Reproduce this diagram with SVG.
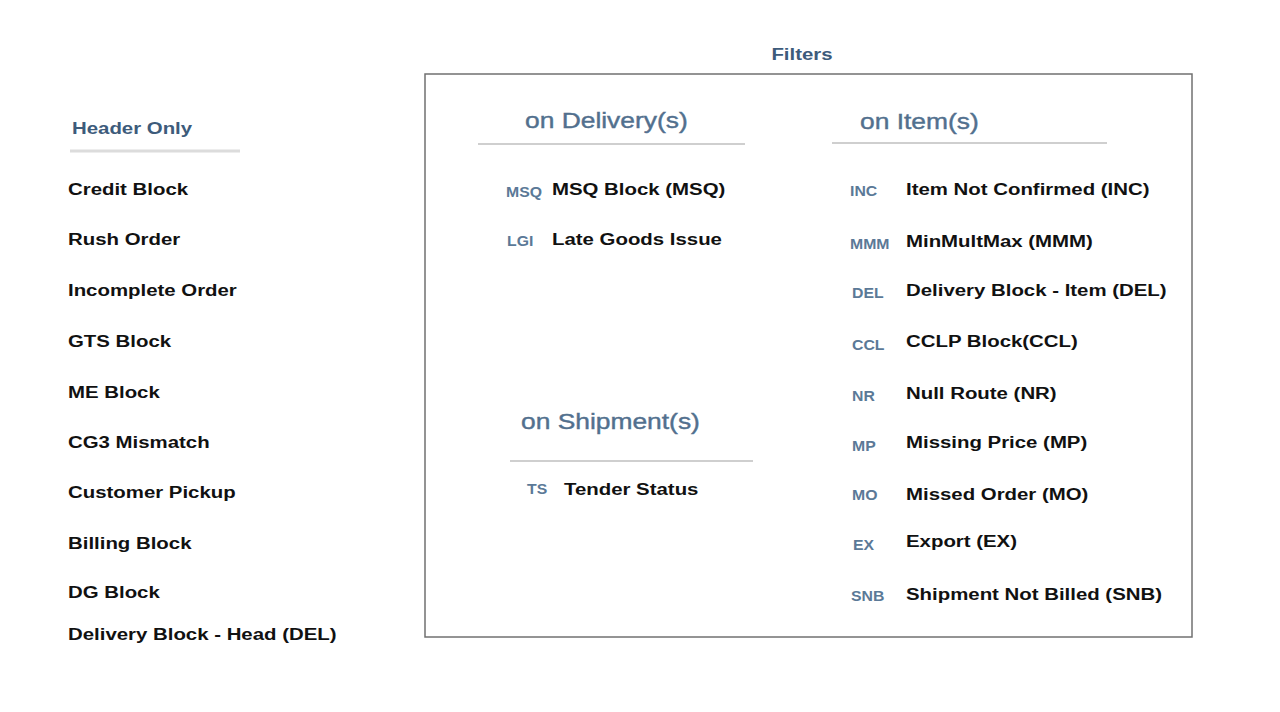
<svg xmlns="http://www.w3.org/2000/svg" width="1280" height="712" viewBox="0 0 1280 712">
<style>
text{font-family:"Liberation Sans",Arial,Helvetica,sans-serif}
.item{font-size:17px;font-weight:bold;fill:#111}
.title{font-size:17px;font-weight:bold;fill:#3d5b7b}
.sec{font-size:22px;fill:#52708e;stroke:#52708e;stroke-width:0.4}
.code{font-size:14px;font-weight:bold;fill:#5b7997}
.rule{stroke:#cfcfcf;stroke-width:2}
</style>
<rect width="1280" height="712" fill="#fff"/>
<g id="filters">
<text class="title" text-anchor="middle" transform="translate(802,60) scale(1.2,1)">Filters</text>
<rect x="425" y="74" width="767" height="563" fill="none" stroke="#707070" stroke-width="1.5"/>
</g>
<g id="header-only">
<text class="title" transform="translate(72,134) scale(1.2,1)">Header Only</text>
<line x1="70" y1="151" x2="240" y2="151" stroke="#dcdcdc" stroke-width="3"/>
<text class="item" transform="translate(68,195) scale(1.2,1)">Credit Block</text>
<text class="item" transform="translate(68,245) scale(1.2,1)">Rush Order</text>
<text class="item" transform="translate(68,296) scale(1.2,1)">Incomplete Order</text>
<text class="item" transform="translate(68,347) scale(1.2,1)">GTS Block</text>
<text class="item" transform="translate(68,398) scale(1.2,1)">ME Block</text>
<text class="item" transform="translate(68,448) scale(1.2,1)">CG3 Mismatch</text>
<text class="item" transform="translate(68,498) scale(1.2,1)">Customer Pickup</text>
<text class="item" transform="translate(68,549) scale(1.2,1)">Billing Block</text>
<text class="item" transform="translate(68,598) scale(1.2,1)">DG Block</text>
<text class="item" transform="translate(68,640) scale(1.2,1)">Delivery Block - Head (DEL)</text>
</g>
<g id="on-delivery">
<text class="sec" transform="translate(525,128) scale(1.2,1)">on Delivery(s)</text>
<line class="rule" x1="478" y1="144" x2="745" y2="144"/>
<text class="code" transform="translate(506,197) scale(1.13,1)">MSQ</text>
<text class="item" transform="translate(552,195) scale(1.2,1)">MSQ Block (MSQ)</text>
<text class="code" transform="translate(507,246) scale(1.13,1)">LGI</text>
<text class="item" transform="translate(552,245) scale(1.2,1)">Late Goods Issue</text>
</g>
<g id="on-shipment">
<text class="sec" transform="translate(521,429) scale(1.2,1)">on Shipment(s)</text>
<line class="rule" x1="510" y1="461" x2="753" y2="461"/>
<text class="code" transform="translate(527,494) scale(1.13,1)">TS</text>
<text class="item" transform="translate(564,495) scale(1.2,1)">Tender Status</text>
</g>
<g id="on-item">
<text class="sec" transform="translate(860,129) scale(1.2,1)">on Item(s)</text>
<line class="rule" x1="832" y1="143" x2="1107" y2="143"/>
<text class="code" transform="translate(850,196) scale(1.13,1)">INC</text>
<text class="item" transform="translate(906,195) scale(1.2,1)">Item Not Confirmed (INC)</text>
<text class="code" transform="translate(850,249) scale(1.13,1)">MMM</text>
<text class="item" transform="translate(906,247) scale(1.2,1)">MinMultMax (MMM)</text>
<text class="code" transform="translate(852,298) scale(1.13,1)">DEL</text>
<text class="item" transform="translate(906,296) scale(1.2,1)">Delivery Block - Item (DEL)</text>
<text class="code" transform="translate(852,350) scale(1.13,1)">CCL</text>
<text class="item" transform="translate(906,347) scale(1.2,1)">CCLP Block(CCL)</text>
<text class="code" transform="translate(852,401) scale(1.13,1)">NR</text>
<text class="item" transform="translate(906,399) scale(1.2,1)">Null Route (NR)</text>
<text class="code" transform="translate(852,451) scale(1.13,1)">MP</text>
<text class="item" transform="translate(906,448) scale(1.2,1)">Missing Price (MP)</text>
<text class="code" transform="translate(852,500) scale(1.13,1)">MO</text>
<text class="item" transform="translate(906,500) scale(1.2,1)">Missed Order (MO)</text>
<text class="code" transform="translate(853,550) scale(1.13,1)">EX</text>
<text class="item" transform="translate(906,547) scale(1.2,1)">Export (EX)</text>
<text class="code" transform="translate(851,601) scale(1.13,1)">SNB</text>
<text class="item" transform="translate(906,600) scale(1.2,1)">Shipment Not Billed (SNB)</text>
</g>
</svg>
